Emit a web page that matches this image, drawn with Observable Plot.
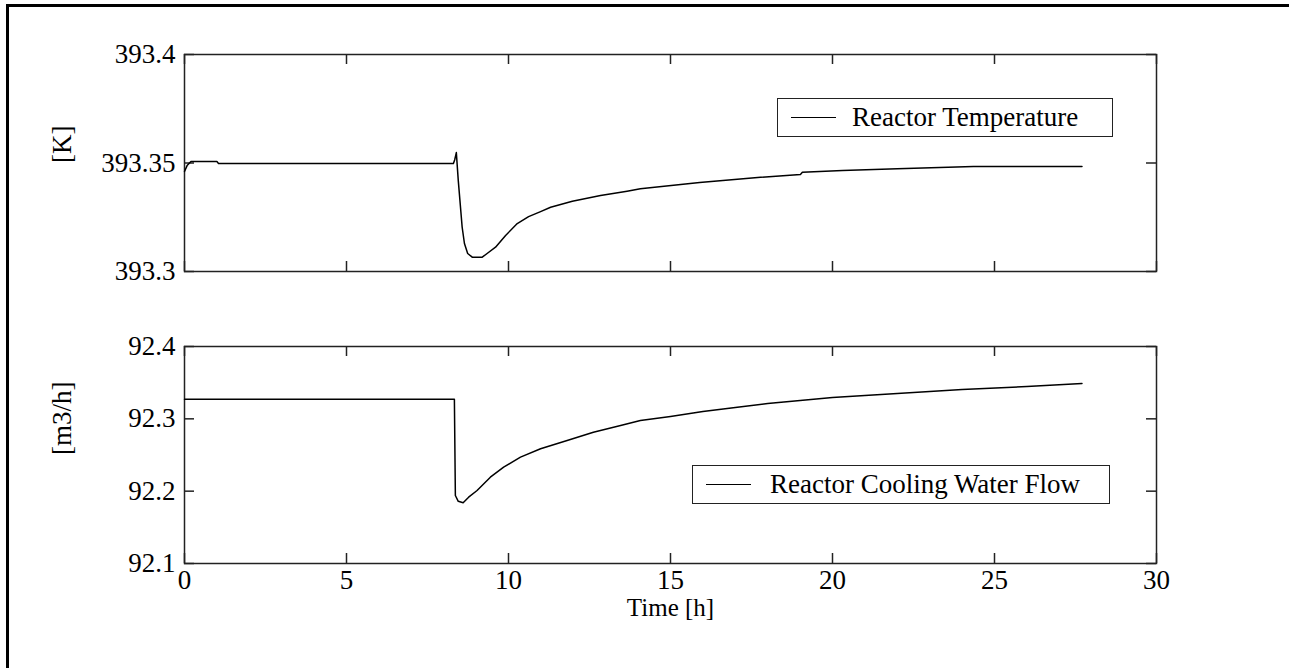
<!DOCTYPE html>
<html>
<head>
<meta charset="utf-8">
<script src="https://cdn.jsdelivr.net/npm/d3@7"></script>
<script src="https://cdn.jsdelivr.net/npm/@observablehq/plot@0.6"></script>
<style>
  html, body { margin: 0; padding: 0; background: #fff; }
  #wrap { position: relative; width: 1289px; height: 668px; background: #fff; overflow: hidden; font-family: "Liberation Serif", "Times New Roman", serif; }
  #outer { position: absolute; left: 6px; top: 4px; width: 1290px; height: 670px; border-left: 3px solid #000; border-top: 3px solid #000; box-sizing: border-box; }
  .panel { position: absolute; left: 0; }
  .legend { position: absolute; background: #fff; border: 1.5px solid #222; box-sizing: border-box; height: 39px; font-size: 27px; color: #000; }
  .legend .sw { position: absolute; left: 13px; top: 18px; width: 45px; height: 0; border-top: 1.5px solid #000; }
  .legend .lt { position: absolute; top: 2px; line-height: 33px; white-space: nowrap; }
</style>
</head>
<body>
<div id="wrap">
  <div id="outer"></div>
  <div id="top" class="panel" style="top:0px"></div>
  <div id="bottom" class="panel" style="top:300px"></div>
  <div class="legend" style="left:777px; top:98px; width:336px;"><div class="sw"></div><div class="lt" style="left:74px">Reactor Temperature</div></div>
  <div class="legend" style="left:692px; top:465px; width:418px;"><div class="sw"></div><div class="lt" style="left:77px">Reactor Cooling Water Flow</div></div>
</div>
<script>
// ---- data ----
const xTicks = [0, 5, 10, 15, 20, 25, 30];
const xTickLabels = ["0", "5", "10", "15", "20", "25", "30"];

const tempTicks = [393.3, 393.35, 393.4];
const tempTickLabels = ["393.3", "393.35", "393.4"];
const flowTicks = [92.1, 92.2, 92.3, 92.4];
const flowTickLabels = ["92.1", "92.2", "92.3", "92.4"];

const tempTime = [0, 0.08, 0.2, 1.0, 1.05, 8.30, 8.34, 8.39, 8.45, 8.57, 8.64, 8.74, 8.88, 9.19, 9.34, 9.60, 9.91, 10.27, 10.62, 10.99, 11.30, 11.97, 12.84, 13.66, 14.07, 15.9, 17.78, 19.01, 19.07, 20.31, 22.0, 24.35, 27.7];
const tempValue = [393.3461, 393.3488, 393.3507, 393.3507, 393.3498, 393.3498, 393.3515, 393.3548, 393.3419, 393.3204, 393.3129, 393.3083, 393.3066, 393.3066, 393.3083, 393.3112, 393.3166, 393.3221, 393.3253, 393.3276, 393.3296, 393.3324, 393.3350, 393.3370, 393.3381, 393.3410, 393.3434, 393.3447, 393.3457, 393.3465, 393.3473, 393.3484, 393.3484];

const flowTime = [0, 8.33, 8.36, 8.45, 8.60, 8.77, 9.03, 9.44, 9.85, 10.37, 10.99, 11.81, 12.62, 13.46, 14.07, 15, 16, 17, 18, 19, 20, 22, 24, 26, 27.7];
const flowValue = [92.327, 92.327, 92.194, 92.186, 92.184, 92.1917, 92.2009, 92.2193, 92.2331, 92.2470, 92.2586, 92.2700, 92.2815, 92.2908, 92.2977, 92.3032, 92.3101, 92.3157, 92.3212, 92.3253, 92.3295, 92.3350, 92.3406, 92.3447, 92.3488];

const tempData = tempTime.map((t, i) => ({t, v: tempValue[i]}));
const flowData = flowTime.map((t, i) => ({t, v: flowValue[i]}));

const W = 1289, ML = 184, MR = 133;
const FS = 27;
const frameH = 217, frameW = W - ML - MR, tickLen = 10;
const ink = "#222";

function panel({data, yDomain, yTicks, yLabels, yTitle, height, mt, mb, showX}) {
  const marks = [
    Plot.frame({stroke: ink, strokeWidth: 1.5}),
    Plot.tickX(xTicks, {x: d => d, insetTop: frameH - tickLen, stroke: ink, strokeWidth: 1.5}),
    Plot.tickX(xTicks, {x: d => d, insetBottom: frameH - tickLen, stroke: ink, strokeWidth: 1.5}),
    Plot.tickY(yTicks, {y: d => d, insetRight: frameW - tickLen, stroke: ink, strokeWidth: 1.5}),
    Plot.tickY(yTicks, {y: d => d, insetLeft: frameW - tickLen, stroke: ink, strokeWidth: 1.5}),
    Plot.axisY(yTicks, {label: null, tickSize: 0, tickPadding: 9, tickFormat: d => yLabels[yTicks.indexOf(d)], fontSize: FS, fill: "#000"}),
    Plot.line(data, {x: "t", y: "v", stroke: "#000", strokeWidth: 1.5}),
    Plot.text([yTitle], {text: d => d, frameAnchor: "left", dx: -122, rotate: -90, fontSize: FS, fill: "#000"})
  ];
  if (showX) {
    marks.push(Plot.axisX(xTicks, {label: null, tickSize: 0, tickPadding: 6, tickFormat: d => xTickLabels[xTicks.indexOf(d)], fontSize: FS, fill: "#000"}));
    marks.push(Plot.text(["Time [h]"], {text: d => d, frameAnchor: "bottom", lineAnchor: "middle", dy: 44, fontSize: 25, fill: "#000"}));
  }
  return Plot.plot({
    width: W, height,
    marginLeft: ML, marginRight: MR, marginTop: mt, marginBottom: mb,
    style: {fontFamily: '"Liberation Serif", "Times New Roman", serif', fontSize: FS + "px", background: "transparent", overflow: "visible"},
    x: {domain: [0, 30], axis: null, label: null},
    y: {domain: yDomain, axis: null, label: null},
    marks
  });
}

document.getElementById("top").appendChild(panel({
  data: tempData, yDomain: [393.3, 393.4], yTicks: tempTicks, yLabels: tempTickLabels,
  yTitle: "[K]", height: 300, mt: 54, mb: 29, showX: false
}));
document.getElementById("bottom").appendChild(panel({
  data: flowData, yDomain: [92.1, 92.4], yTicks: flowTicks, yLabels: flowTickLabels,
  yTitle: "[m3/h]", height: 368, mt: 46, mb: 105, showX: true
}));
</script>
</body>
</html>
